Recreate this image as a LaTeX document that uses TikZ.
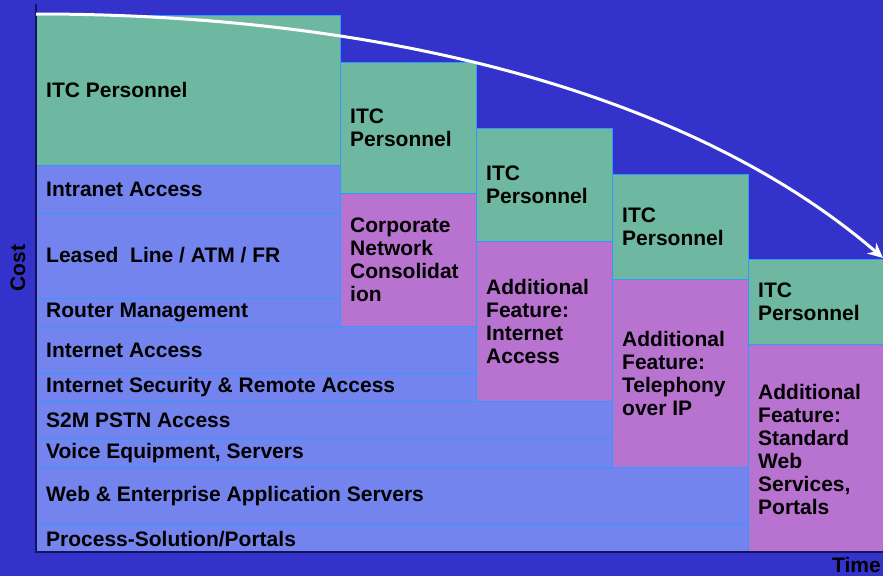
\documentclass[tikz,border=0pt]{standalone}
\usepackage{fontspec}
\setmainfont{Liberation Sans}
\usetikzlibrary{arrows.meta}
\definecolor{xback}{RGB}{51,51,204}
\definecolor{xrow}{RGB}{116,132,238}
\definecolor{xstaff}{RGB}{110,184,162}
\definecolor{xfeature}{RGB}{184,114,208}
\definecolor{xedge}{RGB}{51,153,255}
\definecolor{xaxis}{RGB}{20,20,90}
\tikzset{
  cell/.style = {fill=#1, draw=xedge, line width=0.9pt},
  caption/.style = {anchor=west, inner sep=0pt, align=left, font=\bfseries\fontsize{21}{23}\selectfont},
}

\begin{document}
\begin{tikzpicture}[x=1pt, y=-1pt]
	\fill[xback] (0,0) rectangle (883,576);
	\useasboundingbox (0,0) rectangle (883,576);

	\draw[cell=xstaff] (36,15) rectangle (340,165);
	\draw[cell=xrow] (36,165) rectangle (340,213);
	\draw[cell=xrow] (36,213) rectangle (340,298);
	\draw[cell=xrow] (36,298) rectangle (340,326);
	\draw[cell=xrow] (36,326) rectangle (476,373);
	\draw[cell=xrow] (36,373) rectangle (476,401);
	\draw[cell=xrow] (36,401) rectangle (612,438);
	\draw[cell=xrow] (36,438) rectangle (612,467);
	\draw[cell=xrow] (36,467) rectangle (748,524);
	\draw[cell=xrow] (36,524) rectangle (748,552);

	\draw[cell=xstaff] (340,62) rectangle (476,193);
	\draw[cell=xfeature] (340,193) rectangle (476,326);
	\draw[cell=xstaff] (476,128) rectangle (612,241);
	\draw[cell=xfeature] (476,241) rectangle (612,401);
	\draw[cell=xstaff] (612,174) rectangle (748,279);
	\draw[cell=xfeature] (612,279) rectangle (748,467);
	\draw[cell=xstaff] (748,259) rectangle (886,344);
	\draw[cell=xfeature] (748,344) rectangle (886,552);

	\node[caption] (itcA) at (46,90) {ITC Personnel};
	\node[caption] (intranet) at (46,189) {Intranet Access};
	\node[caption] (leased) at (46,255) {Leased\ \ Line / ATM / FR};
	\node[caption] (router) at (46,312) {Router Management};
	\node[caption] (internet) at (46,350) {Internet Access};
	\node[caption] (security) at (46,387) {Internet Security \& Remote Access};
	\node[caption] (pstn) at (46,420) {S2M PSTN Access};
	\node[caption] (voice) at (46,453) {Voice Equipment, Servers};
	\node[caption] (webapp) at (46,496) {Web \& Enterprise Application Servers};
	\node[caption] (process) at (46,539) {Process-Solution/Portals};

	\node[caption] (itcB) at (350,128) {ITC\\Personnel};
	\node[caption] (corporate) at (350,260) {Corporate\\Network\\Consolidat\\ion};
	\node[caption] (itcC) at (486,185) {ITC\\Personnel};
	\node[caption] (featInternet) at (486,321) {Additional\\Feature:\\Internet\\Access};
	\node[caption] (itcD) at (622,227) {ITC\\Personnel};
	\node[caption] (featPhone) at (622,373) {Additional\\Feature:\\Telephony\\over IP};
	\node[caption] (itcE) at (758,302) {ITC\\Personnel};
	\node[caption] (featWeb) at (758,449) {Additional\\Feature:\\Standard\\Web\\Services,\\Portals};

	\draw[xaxis, line width=1.2pt] (36,4) -- (36,552) -- (886,552);
	\draw[white, line width=3pt, -{Stealth[length=15pt, width=14pt]}] (36,14) .. controls (400,14) and (700,100) .. (883,258);

	\node[caption, rotate=90, anchor=center] (cost) at (18,268) {Cost};
	\node[caption, anchor=east] (time) at (881,565) {Time};
\end{tikzpicture}
\end{document}
